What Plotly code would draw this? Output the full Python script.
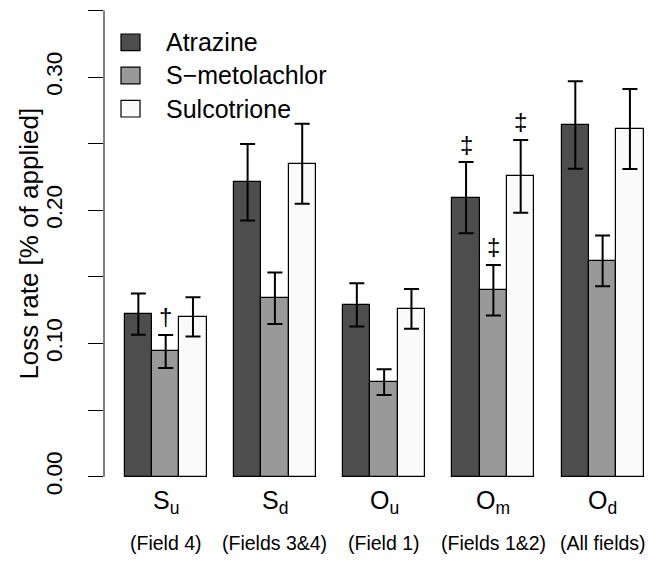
import plotly.graph_objects as go

# ---- data ----
groups = ["S<sub>u</sub>", "S<sub>d</sub>", "O<sub>u</sub>", "O<sub>m</sub>", "O<sub>d</sub>"]
sublabels = ["(Field 4)", "(Fields 3&4)", "(Field 1)", "(Fields 1&2)", "(All fields)"]
series_names = ["Atrazine", "S\u2212metolachlor", "Sulcotrione"]
atrazine = [0.122, 0.221, 0.129, 0.2095, 0.264]
atrazine_err = [0.0155, 0.0287, 0.0163, 0.0267, 0.0328]
smetolachlor = [0.094, 0.134, 0.071, 0.140, 0.162]
smetolachlor_err = [0.0124, 0.0193, 0.0097, 0.019, 0.019]
sulcotrione = [0.120, 0.235, 0.126, 0.2255, 0.261]
sulcotrione_err = [0.0148, 0.030, 0.015, 0.0273, 0.030]
# significance marks: (group index, series index, symbol)
marks = [(0, 1, "\u2020"), (3, 0, "\u2021"), (3, 1, "\u2021"), (3, 2, "\u2021")]
y_ticks = [0.0, 0.05, 0.10, 0.15, 0.20, 0.25, 0.30, 0.35]
y_ticktext = ["0.00", "", "0.10", "", "0.20", "", "0.30", ""]

values = [atrazine, smetolachlor, sulcotrione]
errors = [atrazine_err, smetolachlor_err, sulcotrione_err]
colors = ["#4D4D4D", "#999999", "#FAFAFA"]

FONT = "Liberation Sans, Arial, Helvetica, sans-serif"
W, H = 648, 571
ML, MR, MT, MB = 104, 0, 0, 76
PW, PH = W - ML - MR, H - MT - MB

# barplot geometry (R style: each group = 3 bars of width 1 + space 1)
def bar_x(g, s):
    return 1 + 4 * g + s + 0.5

def group_x(g):
    return 1 + 4 * g + 1.5

unit_px = 27.31
x0 = 1 + (ML - 124.7) / unit_px
x1 = x0 + PW / unit_px
ypx_per_unit = 1332.0
zero_px = 476.7
y_range = [-(PH - zero_px) / ypx_per_unit, zero_px / ypx_per_unit]

def px_to_paper_x(px):
    return (px - ML) / PW

def px_to_paper_y(py):
    return (MT + PH - py) / PH

fig = go.Figure()
for s in range(3):
    fig.add_trace(go.Bar(
        x=[bar_x(g, s) for g in range(len(groups))],
        y=values[s],
        width=1,
        marker=dict(color=colors[s], line=dict(color="black", width=1.2)),
        error_y=dict(type="data", array=errors[s], visible=True,
                     color="black", thickness=2, width=7.5),
        name=series_names[s],
        showlegend=False,
    ))

annotations = []
# significance marks
for g, s, sym in marks:
    annotations.append(dict(
        x=bar_x(g, s), y=values[s][g] + errors[s][g] + 0.0135,
        xref="x", yref="y", text=sym, showarrow=False,
        font=dict(family=FONT, size=24, color="black"),
        xanchor="center", yanchor="middle"))

# group labels
for g in range(len(groups)):
    annotations.append(dict(
        x=group_x(g), y=px_to_paper_y(484), xref="x", yref="paper",
        text=groups[g], showarrow=False, xanchor="center", yanchor="top",
        font=dict(family=FONT, size=25, color="black")))
    annotations.append(dict(
        x=group_x(g), y=px_to_paper_y(530), xref="x", yref="paper",
        text=sublabels[g], showarrow=False, xanchor="center", yanchor="top",
        font=dict(family=FONT, size=19.5, color="black")))

# y axis title
annotations.append(dict(
    x=px_to_paper_x(29), y=0.175, xref="paper", yref="y",
    text="Loss rate [% of applied]", textangle=-90, showarrow=False,
    xanchor="center", yanchor="middle",
    font=dict(family=FONT, size=26, color="black")))

shapes = []
# y axis line (only over the tick range)
shapes.append(dict(type="line", xref="paper", yref="y", x0=0, x1=0,
                   y0=y_ticks[0], y1=y_ticks[-1],
                   line=dict(color="black", width=1)))

# legend
leg_rows = [42.3, 75.5, 108.7]
for i, name in enumerate(series_names):
    cy = leg_rows[i]
    shapes.append(dict(type="rect", xref="paper", yref="paper",
                       x0=px_to_paper_x(121), x1=px_to_paper_x(140),
                       y0=px_to_paper_y(cy + 8.3), y1=px_to_paper_y(cy - 8.3),
                       fillcolor=colors[i], line=dict(color="black", width=1.2)))
    annotations.append(dict(
        x=px_to_paper_x(164), y=px_to_paper_y(cy), xref="paper", yref="paper",
        text=name, showarrow=False, xanchor="left", yanchor="middle",
        font=dict(family=FONT, size=25, color="black")))

fig.update_layout(
    width=W, height=H,
    margin=dict(l=ML, r=MR, t=MT, b=MB, pad=0),
    paper_bgcolor="white", plot_bgcolor="white",
    barmode="overlay",
    bargap=0,
    xaxis=dict(range=[x0, x1], visible=False, showgrid=False, zeroline=False),
    yaxis=dict(range=y_range, tickvals=y_ticks, ticktext=y_ticktext,
               ticks="outside", ticklen=15, tickwidth=1, tickcolor="black",
               tickangle=-90, ticklabelstandoff=17,
               tickfont=dict(family=FONT, size=22.5, color="black"),
               showline=False, showgrid=False, zeroline=False),
    annotations=annotations,
    shapes=shapes,
    font=dict(family=FONT, color="black"),
)

fig.write_html("out.html")
